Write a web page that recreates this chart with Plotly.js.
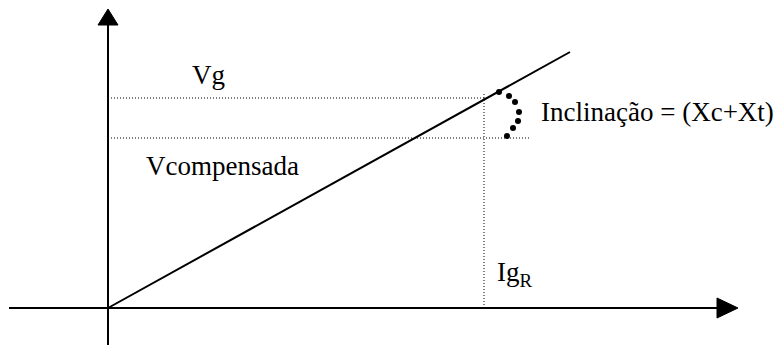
<!DOCTYPE html>
<html>
<head>
<meta charset="utf-8">
<script src="https://cdn.plot.ly/plotly-3.0.1.min.js"></script>
<style>
  body { margin: 0; background: #fff; }
  #plot { width: 774px; height: 347px; }
</style>
</head>
<body>
<div id="plot"></div>
<script>
// diagram units (origin of the V x I axes at 0,0)
const axisX = [-99, 630];      // horizontal axis start / arrow tip
const axisY = [-37, 299];      // vertical axis start / arrow tip
const lineX = [0, 462];        // V = (Xc+Xt) * I line
const lineY = [0, 256];
const IgR = 376;
const Vg = 210;
const Vcomp = 170;
const dotsLevelEnd = 422;      // end of the Vcompensada dotted line
const arcX = [391, 401, 407, 411, 410, 405, 399];
const arcY = [216, 212, 206, 196, 187, 180, 172];
const labels = ["Vg", "Vcompensada", "Inclinação = (Xc+Xt)", "Ig<sub>R</sub>"];
const labelX = [100, 114, 549, 387];
const labelY = [233, 142, 196, 34];

const headLen = 21, headHalf = 10;
const black = "#000";
const dotted = { color: black, width: 1, dash: "1px,2px" };

let traces = [];
// axes
traces.push({ x: [axisX[0], axisX[1] - headLen], y: [0, 0], mode: "lines", line: { color: black, width: 2 } });
traces.push({ x: [0, 0], y: [axisY[0], axisY[1] - 16], mode: "lines", line: { color: black, width: 2 } });
// arrow heads
traces.push({ x: [axisX[1], axisX[1] - headLen, axisX[1] - headLen, axisX[1]], y: [0, headHalf, -headHalf, 0],
  mode: "lines", fill: "toself", fillcolor: black, line: { color: black, width: 1 } });
traces.push({ x: [0, -headHalf, headHalf, 0], y: [axisY[1], axisY[1] - 16, axisY[1] - 16, axisY[1]],
  mode: "lines", fill: "toself", fillcolor: black, line: { color: black, width: 1 } });
// main line
traces.push({ x: lineX, y: lineY, mode: "lines", line: { color: black, width: 2 } });
// dotted guides
traces.push({ x: [0, IgR], y: [Vg, Vg], mode: "lines", line: dotted });
traces.push({ x: [0, dotsLevelEnd], y: [Vcomp, Vcomp], mode: "lines", line: dotted });
traces.push({ x: [IgR, IgR], y: [0, Vg + 5], mode: "lines", line: dotted });
// slope arc
traces.push({ x: arcX, y: arcY, mode: "markers", marker: { color: black, size: 6 } });

let annotations = [];
for (let i = 0; i < labels.length; i++) {
  annotations.push({
    x: labelX[i], y: labelY[i], text: labels[i], showarrow: false,
    xanchor: i === 3 ? "left" : "center", yanchor: "middle",
    font: { family: "Liberation Serif, Times New Roman, serif", size: 27, color: black }
  });
}

let layout = {
  width: 774, height: 347,
  margin: { l: 0, r: 0, t: 0, b: 0 },
  showlegend: false,
  paper_bgcolor: "#fff", plot_bgcolor: "#fff",
  xaxis: { range: [-108, 666], visible: false, fixedrange: true },
  yaxis: { range: [-39, 308], visible: false, fixedrange: true },
  annotations: annotations
};

Plotly.newPlot("plot", traces, layout, { displayModeBar: false, staticPlot: true });
</script>
</body>
</html>
